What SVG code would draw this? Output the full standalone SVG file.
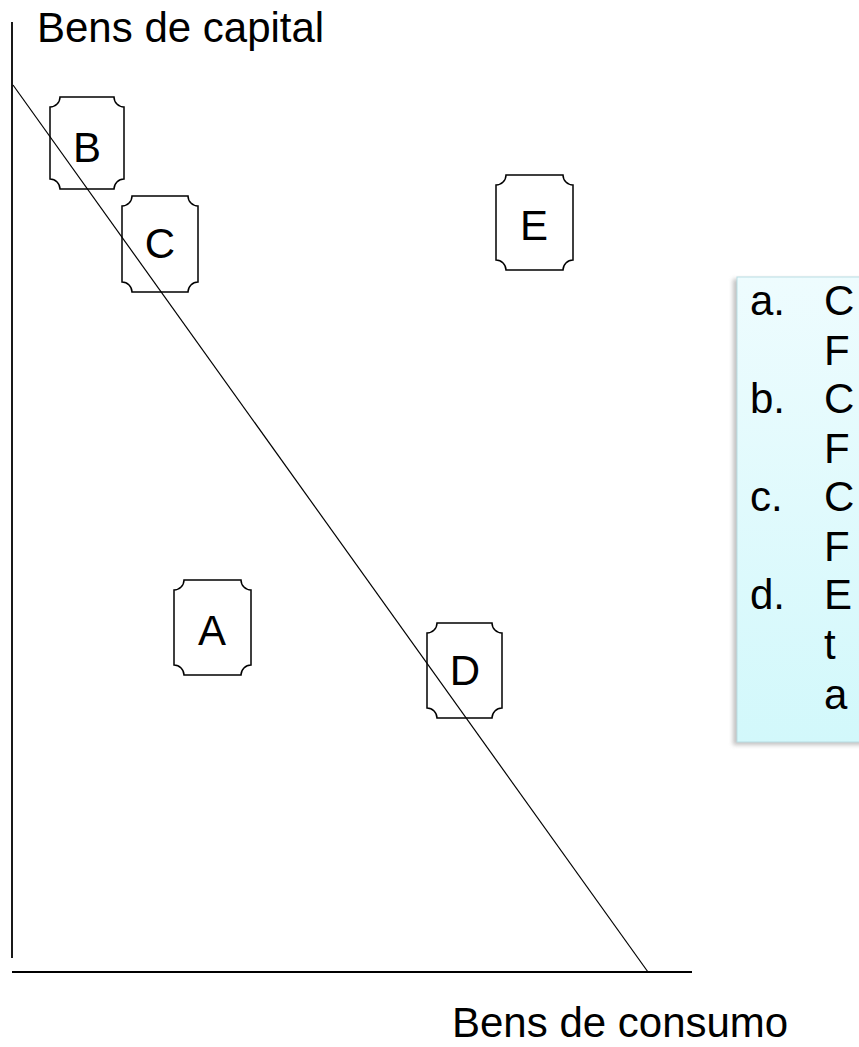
<svg xmlns="http://www.w3.org/2000/svg" width="859" height="1047" viewBox="0 0 859 1047">
<style>
.t{font-family:"Liberation Sans",Arial,sans-serif;font-size:42px;fill:#000}
.n{fill:none;stroke:#000;stroke-width:1.5}
.ax{stroke:#000;stroke-width:1.8;fill:none}
.pp{stroke:#000;stroke-width:1.2;fill:none}
</style>
<defs>
<linearGradient id="bg" x1="0" y1="0" x2="0" y2="1">
<stop offset="0" stop-color="#eefcfe"/>
<stop offset="1" stop-color="#d2f8fb"/>
</linearGradient>
<filter id="sh" x="-20%" y="-20%" width="140%" height="140%">
<feGaussianBlur stdDeviation="2"/>
</filter>
</defs>
<rect width="859" height="1047" fill="#fff"/>
<g id="connectors">
<line class="ax" x1="12" y1="22" x2="12" y2="958"/>
<line class="ax" x1="12" y1="972" x2="692" y2="972"/>
<line class="pp" x1="13" y1="85" x2="648" y2="972"/>
</g>
<text class="t" x="37" y="42">Bens de capital</text>
<text class="t" x="452" y="1037">Bens de consumo</text>
<g id="node-B">
<path class="n" d="M60 97H114A10 10 0 0 0 124 107V179A10 10 0 0 0 114 189H60A10 10 0 0 0 50 179V107A10 10 0 0 0 60 97Z"/>
<text class="t" x="87" y="162" text-anchor="middle">B</text>
</g>
<g id="node-C">
<path class="n" d="M132 196H188A10 10 0 0 0 198 206V282A10 10 0 0 0 188 292H132A10 10 0 0 0 122 282V206A10 10 0 0 0 132 196Z"/>
<text class="t" x="160" y="258" text-anchor="middle">C</text>
</g>
<g id="node-E">
<path class="n" d="M506 175H563A10 10 0 0 0 573 185V260A10 10 0 0 0 563 270H506A10 10 0 0 0 496 260V185A10 10 0 0 0 506 175Z"/>
<text class="t" x="534" y="240" text-anchor="middle">E</text>
</g>
<g id="node-A">
<path class="n" d="M184 580H241A10 10 0 0 0 251 590V665A10 10 0 0 0 241 675H184A10 10 0 0 0 174 665V590A10 10 0 0 0 184 580Z"/>
<text class="t" x="212" y="645" text-anchor="middle">A</text>
</g>
<g id="node-D">
<path class="n" d="M437 623H492A10 10 0 0 0 502 633V708A10 10 0 0 0 492 718H437A10 10 0 0 0 427 708V633A10 10 0 0 0 437 623Z"/>
<text class="t" x="465" y="685" text-anchor="middle">D</text>
</g>
<g id="note">
<rect x="733" y="279" width="140" height="466" fill="#9a9a9a" opacity="0.6" filter="url(#sh)"/>
<rect x="737" y="277" width="136" height="465" fill="url(#bg)" stroke="#b9dde3" stroke-width="1"/>
<text class="t" x="750" y="315">a.</text><text class="t" x="824" y="315">C</text>
<text class="t" x="824" y="365">F</text>
<text class="t" x="750" y="413">b.</text><text class="t" x="824" y="413">C</text>
<text class="t" x="824" y="463">F</text>
<text class="t" x="750" y="511">c.</text><text class="t" x="824" y="511">C</text>
<text class="t" x="824" y="561">F</text>
<text class="t" x="750" y="609">d.</text><text class="t" x="824" y="609">E</text>
<text class="t" x="824" y="659">t</text>
<text class="t" x="824" y="709">a</text>
</g>
</svg>
